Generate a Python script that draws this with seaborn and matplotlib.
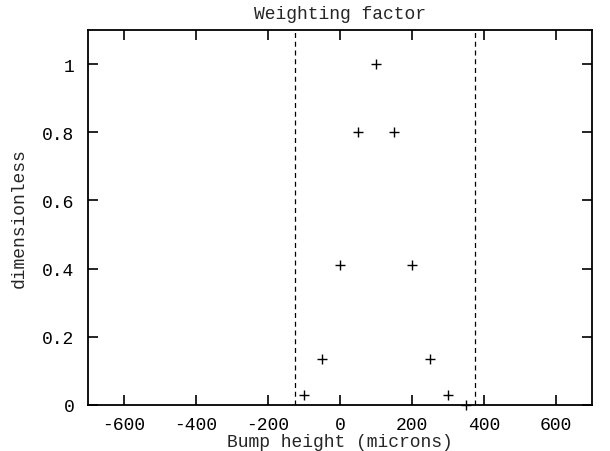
import matplotlib
matplotlib.use("Agg")
import matplotlib.pyplot as plt
import pandas as pd
import seaborn as sns

# Data
bump_height = [-100, -50, 0, 50, 100, 150, 200, 250, 300, 350]
weight = [0.03, 0.135, 0.41, 0.80, 1.0, 0.80, 0.41, 0.135, 0.03, 0.0]
cut_lines = [-125, 375]
x_ticks = [-600, -400, -200, 0, 200, 400, 600]
y_ticks = [0, 0.2, 0.4, 0.6, 0.8, 1]
y_tick_labels = ["0", "0.2", "0.4", "0.6", "0.8", "1"]

sns.set_theme(style="ticks")
plt.rcParams["font.family"] = ["Liberation Mono", "DejaVu Sans Mono"]
plt.rcParams["font.size"] = 13

df = pd.DataFrame({"bump": bump_height, "weight": weight})

fig = plt.figure(figsize=(6.1, 4.52), dpi=100)
ax = fig.add_axes([0.1443, 0.1018, 0.8262, 0.8296])

sns.scatterplot(data=df, x="bump", y="weight", marker="+", color="black",
                s=45, linewidth=1.0, ax=ax, zorder=3, clip_on=False)
for xv in cut_lines:
    ax.axvline(xv, color="black", linestyle=(0, (4, 3)), linewidth=0.9)

ax.set_xlim(-700, 700)
ax.set_ylim(0, 1.1)
ax.set_xticks(x_ticks)
ax.set_xticklabels([str(v) for v in x_ticks])
ax.set_yticks(y_ticks)
ax.set_yticklabels(y_tick_labels)
ax.tick_params(direction="in", top=True, right=True, length=7, width=1.2,
               labelsize=13, colors="black", pad=10)
ax.tick_params(axis="x", pad=8)
for sp in ax.spines.values():
    sp.set_linewidth(1.3)
    sp.set_color("black")

ax.set_xlabel("Bump height (microns)", fontsize=13, labelpad=0)
ax.set_ylabel("dimensionless", fontsize=13, labelpad=10)
ax.set_title("Weighting factor", fontsize=13, pad=9)

fig.savefig("out.png", dpi=100, facecolor="white")
